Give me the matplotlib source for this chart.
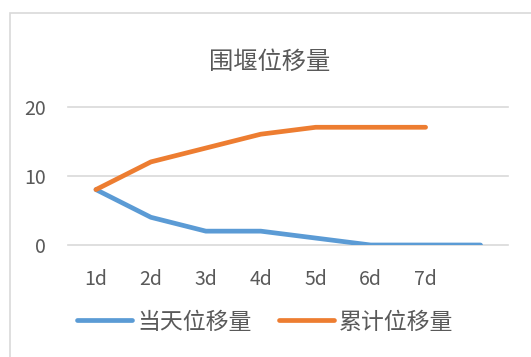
import matplotlib.pyplot as plt
from matplotlib.patches import Rectangle

plt.rcParams['font.family'] = ['Noto Sans CJK SC', 'DejaVu Sans']

# chart data
days = ['1d', '2d', '3d', '4d', '5d', '6d', '7d', '']
daily = [8, 4, 2, 2, 1, 0, 0, 0]
total = [8, 12, 14, 16, 17, 17, 17]

blue = '#5b9bd5'
orange = '#ed7d31'
gray = '#595959'

fig = plt.figure(figsize=(5.31, 3.57), dpi=100)

# chart border (cut off at right and bottom like the screenshot)
fig.patches.append(Rectangle((10 / 531, -0.1), 1.0, 1 - 13 / 357 + 0.1,
                             transform=fig.transFigure, fill=False,
                             edgecolor='#d9d9d9', linewidth=1.2))

ax = fig.add_axes([68.5 / 531, 1 - 245 / 357, 439.5 / 531, 138.5 / 357])

x = list(range(len(days)))
ax.plot(x[:len(daily)], daily, color=blue, linewidth=3.4,
        solid_capstyle='round', solid_joinstyle='round', label='当天位移量')
ax.plot(x[:len(total)], total, color=orange, linewidth=3.4,
        solid_capstyle='round', solid_joinstyle='round', label='累计位移量')

ax.set_xlim(-0.5, len(days) - 0.5)
ax.set_ylim(0, 20)
ax.set_xticks(x)
ax.set_xticklabels(days)
ax.set_yticks([0, 10, 20])

ax.grid(axis='y', color='#d9d9d9', linewidth=1.2)
for gl in ax.get_ygridlines():
    gl.set_clip_on(False)
ax.set_axisbelow(True)
for s in ax.spines.values():
    s.set_visible(False)
ax.tick_params(length=0, labelsize=14, colors=gray)
ax.tick_params(axis='x', pad=17)
ax.tick_params(axis='y', pad=16)

fig.text(270 / 531, 1 - 62 / 357, '围堰位移量', ha='center', va='center',
         fontsize=17.5, color=gray, fontweight='light')

fig.legend(loc='center', bbox_to_anchor=(265 / 531, 1 - 322 / 357), ncol=2,
           frameon=False, prop={'size': 16.5, 'weight': 'light'},
           labelcolor=gray, handlelength=2.4, handletextpad=0.2,
           columnspacing=1.2)

fig.savefig('out.png', dpi=100)
